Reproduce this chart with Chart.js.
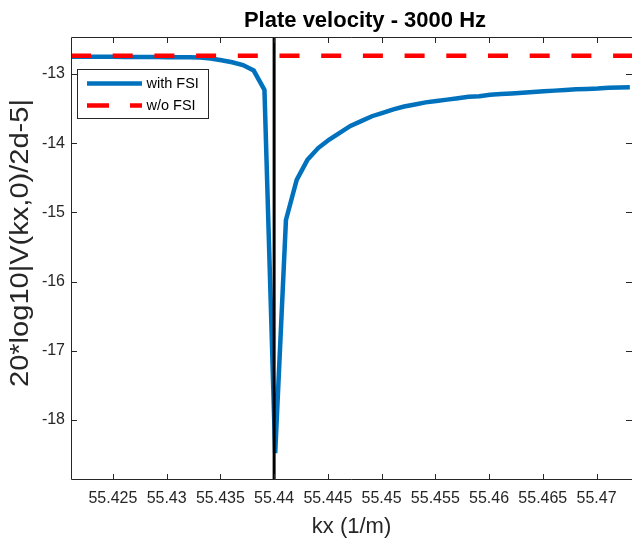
<html lang="en">
<head>
    <title>Plate velocity - 3000 Hz</title>
    <style>
        body { margin: 0; overflow: hidden; background: #fff; }
    </style>
</head>

<body>
    <canvas id="plateChart" width="632" height="540"></canvas>

    <script src="https://cdn.jsdelivr.net/npm/chart.js"></script>
    <script>
        // wavenumber samples (1/m)
        const kx = [
            55.4211, 55.4221, 55.4231, 55.4241, 55.4251, 55.4261, 55.4271, 55.4281, 55.4291, 55.4301,
            55.4311, 55.4321, 55.4331, 55.4341, 55.4351, 55.4361, 55.4371, 55.4381, 55.4391, 55.4401,
            55.4411, 55.4421, 55.4431, 55.4441, 55.4451, 55.4461, 55.4471, 55.4481, 55.4491, 55.4501,
            55.4511, 55.4521, 55.4531, 55.4541, 55.4551, 55.4561, 55.4571, 55.4581, 55.4591, 55.4601,
            55.4611, 55.4621, 55.4631, 55.4641, 55.4651, 55.4661, 55.4671, 55.4681, 55.4691, 55.4701,
            55.4711, 55.4721, 55.4731
        ];

        // plate velocity level with fluid-structure interaction
        const with_fsi = [
            -12.750, -12.751, -12.751, -12.752, -12.752, -12.753, -12.753, -12.754, -12.755, -12.756,
            -12.757, -12.759, -12.762, -12.775, -12.800, -12.830, -12.870, -12.950, -13.230, -18.480,
            -15.110, -14.530, -14.240, -14.070, -13.950, -13.850, -13.750, -13.680, -13.610, -13.560,
            -13.510, -13.470, -13.440, -13.410, -13.390, -13.370, -13.350, -13.330, -13.320, -13.300,
            -13.290, -13.280, -13.270, -13.260, -13.250, -13.240, -13.230, -13.220, -13.215, -13.210,
            -13.200, -13.195, -13.190
        ];

        // level without FSI (flat)
        const wo_fsi = [-12.735, -12.735];

        // in-vacuo wavenumber marker
        const resonance_kx = 55.44;

        const x_range = [55.4211, 55.4733];
        const y_range = [-18.867, -12.465];

        const x_ticks = [55.425, 55.43, 55.435, 55.44, 55.445, 55.45, 55.455, 55.46, 55.465, 55.47];
        const x_tick_labels = ['55.425', '55.43', '55.435', '55.44', '55.445', '55.45', '55.455', '55.46', '55.465', '55.47'];
        const y_ticks = [-18, -17, -16, -15, -14, -13];
        const y_tick_labels = ['-18', '-17', '-16', '-15', '-14', '-13'];

        const series_names = ['with FSI', 'w/o FSI'];
        const title_text = 'Plate velocity - 3000 Hz';
        const x_label = 'kx (1/m)';
        const y_label = '20*log10|V(kx,0)/2d-5|';

        const FONT = "'Liberation Sans', Arial, Helvetica, sans-serif";
        const AXIS_COLOR = '#262626';
        const BLUE = '#0072BD';
        const RED = '#FF0000';
        const DASH = [20, 21.7];

        /**
         * Draws the MATLAB-like frame, inward ticks, legend, title and y label
         */
        const matlabPlugin = {
            id: 'matlab',
            afterDraw(chart) {
                const ctx = chart.ctx;
                const a = chart.chartArea;
                const xs = chart.scales.x;
                const ys = chart.scales.y;
                ctx.save();

                // frame (right edge falls outside the picture)
                ctx.strokeStyle = AXIS_COLOR;
                ctx.lineWidth = 1;
                ctx.beginPath();
                ctx.moveTo(a.right, a.top + 0.5);
                ctx.lineTo(a.left + 0.5, a.top + 0.5);
                ctx.lineTo(a.left + 0.5, a.bottom - 0.5);
                ctx.lineTo(a.right, a.bottom - 0.5);
                ctx.stroke();

                // inward tick marks
                const tl = 6;
                ctx.beginPath();
                x_ticks.forEach(function (v) {
                    const px = Math.round(xs.getPixelForValue(v)) + 0.5;
                    ctx.moveTo(px, a.bottom);
                    ctx.lineTo(px, a.bottom - tl);
                    ctx.moveTo(px, a.top);
                    ctx.lineTo(px, a.top + tl);
                });
                y_ticks.forEach(function (v) {
                    const py = Math.round(ys.getPixelForValue(v)) + 0.5;
                    ctx.moveTo(a.left, py);
                    ctx.lineTo(a.left + tl, py);
                    ctx.moveTo(a.right, py);
                    ctx.lineTo(a.right - tl, py);
                });
                ctx.stroke();

                // legend
                const lx = a.left + 6.5, ly = a.top + 32.5, lw = 131, lh = 49;
                ctx.fillStyle = '#fff';
                ctx.fillRect(lx, ly, lw, lh);
                ctx.strokeStyle = AXIS_COLOR;
                ctx.strokeRect(lx, ly, lw, lh);

                ctx.lineWidth = 4.5;
                ctx.strokeStyle = BLUE;
                ctx.beginPath();
                ctx.moveTo(lx + 9.5, ly + 14);
                ctx.lineTo(lx + 64.5, ly + 14);
                ctx.stroke();

                ctx.strokeStyle = RED;
                ctx.setLineDash([22, 21]);
                ctx.beginPath();
                ctx.moveTo(lx + 9.5, ly + 36);
                ctx.lineTo(lx + 64.5, ly + 36);
                ctx.stroke();
                ctx.setLineDash([]);

                ctx.fillStyle = '#000';
                ctx.font = '14.5px ' + FONT;
                ctx.textBaseline = 'middle';
                ctx.textAlign = 'left';
                ctx.fillText(series_names[0], lx + 69, ly + 14);
                ctx.fillText(series_names[1], lx + 69, ly + 36);

                // title
                ctx.fillStyle = '#000';
                ctx.font = 'bold 22px ' + FONT;
                ctx.textBaseline = 'alphabetic';
                ctx.textAlign = 'center';
                ctx.fillText(title_text, 365, 27);

                // y label, a little stretched along its length as in the original
                ctx.fillStyle = AXIS_COLOR;
                ctx.font = '25px ' + FONT;
                ctx.textBaseline = 'middle';
                const w = ctx.measureText(y_label).width;
                ctx.translate(21, 243);
                ctx.rotate(-Math.PI / 2);
                ctx.scale(288 / w, 1);
                ctx.fillText(y_label, 0, 0);

                ctx.restore();
            }
        };

        const plate_c = document.getElementById('plateChart');
        const plateChart = new Chart(plate_c, {
            type: 'line',
            data: {
                datasets: [{
                    label: series_names[0],
                    data: kx.map(function (x, i) { return {x: x, y: with_fsi[i]}; }),
                    borderColor: BLUE,
                    borderWidth: 4.5,
                    pointRadius: 0,
                    tension: 0,
                    order: 3
                }, {
                    label: series_names[1],
                    data: x_range.map(function (x, i) { return {x: x, y: wo_fsi[i]}; }),
                    borderColor: RED,
                    borderWidth: 4.5,
                    borderDash: DASH,
                    pointRadius: 0,
                    order: 2
                }, {
                    label: 'marker',
                    data: [{x: resonance_kx, y: y_range[0]}, {x: resonance_kx, y: y_range[1]}],
                    borderColor: '#000',
                    borderWidth: 3,
                    pointRadius: 0,
                    order: 1
                }]
            },
            options: {
                responsive: false,
                animation: false,
                devicePixelRatio: 1,
                layout: {padding: {top: 37, right: 0, left: 0, bottom: 0}},
                plugins: {
                    legend: {display: false},
                    tooltip: {enabled: false},
                    title: {display: false}
                },
                scales: {
                    x: {
                        type: 'linear',
                        min: x_range[0],
                        max: x_range[1],
                        grid: {display: false, drawTicks: false},
                        border: {display: false},
                        afterBuildTicks: function (s) { s.ticks = x_ticks.map(function (v) { return {value: v}; }); },
                        afterFit: function (s) { s.height = 60; },
                        ticks: {
                            autoSkip: false,
                            maxRotation: 0,
                            padding: 9,
                            color: AXIS_COLOR,
                            font: {family: FONT, size: 16},
                            callback: function (v, i) { return x_tick_labels[i]; }
                        },
                        title: {
                            display: true,
                            text: x_label,
                            color: AXIS_COLOR,
                            font: {family: FONT, size: 22},
                            padding: {top: 0, bottom: 0}
                        }
                    },
                    y: {
                        min: y_range[0],
                        max: y_range[1],
                        grid: {display: false, drawTicks: false},
                        border: {display: false},
                        afterBuildTicks: function (s) { s.ticks = y_ticks.map(function (v) { return {value: v}; }); },
                        afterFit: function (s) { s.width = 71; },
                        ticks: {
                            padding: 6,
                            color: AXIS_COLOR,
                            font: {family: FONT, size: 16},
                            callback: function (v, i) { return y_tick_labels[i]; }
                        }
                    }
                }
            },
            plugins: [matlabPlugin]
        });
    </script>
</body>
</html>
